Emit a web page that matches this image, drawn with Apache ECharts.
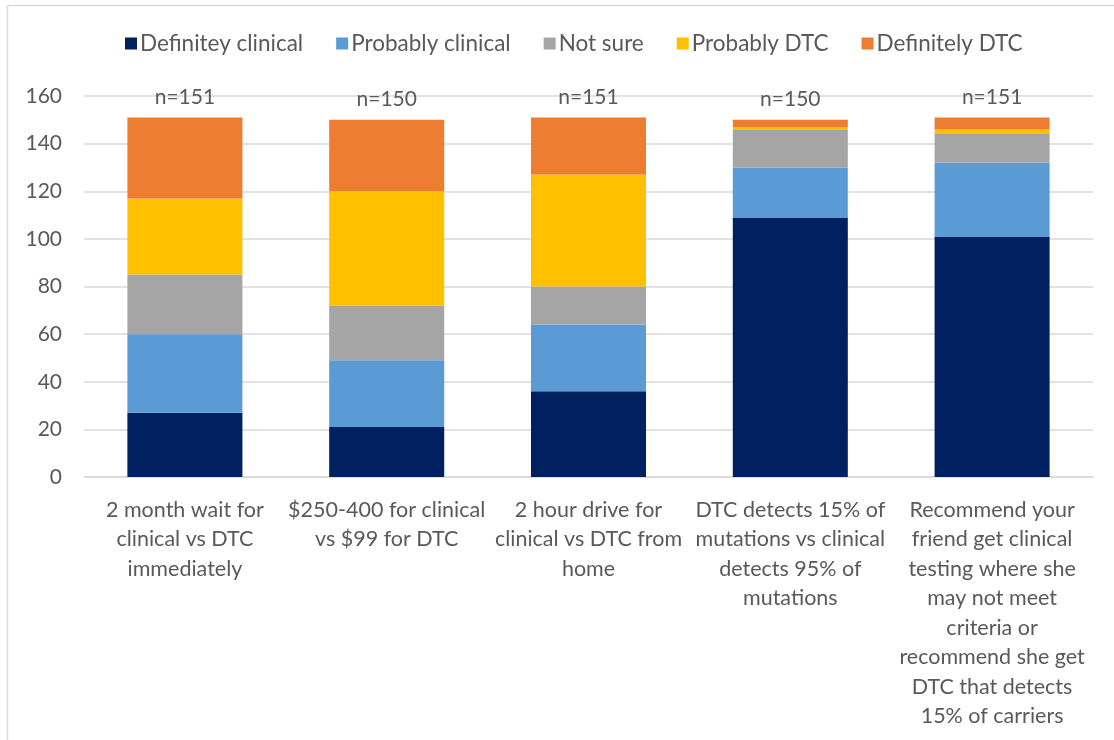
<!DOCTYPE html>
<html>
<head>
<meta charset="utf-8">
<script src="https://cdn.jsdelivr.net/npm/echarts@6/dist/echarts.min.js"></script>
<style>
  html, body { margin: 0; padding: 0; background: #fff; }
  #chart { width: 1114px; height: 740px; }
</style>
</head>
<body>
<div id="chart"></div>
<script>
// Survey responses: clinical vs direct-to-consumer (DTC) genetic testing preferences
const categories = [
  '2 month wait for\nclinical vs DTC\nimmediately',
  '$250-400 for clinical\nvs $99 for DTC',
  '2 hour drive for\nclinical vs DTC from\nhome',
  'DTC detects 15% of\nmutations vs clinical\ndetects 95% of\nmutations',
  'Recommend your\nfriend get clinical\ntesting where she\nmay not meet\ncriteria or\nrecommend she get\nDTC that detects\n15% of carriers'
];

const seriesNames = ['Definitey clinical', 'Probably clinical', 'Not sure', 'Probably DTC', 'Definitely DTC'];

const definitelyClinical = [27, 21, 36, 109, 101];
const probablyClinical   = [33, 28, 28, 21, 31];
const notSure            = [25, 23, 16, 16, 12];
const probablyDTC        = [32, 48, 47, 1, 2];
const definitelyDTC      = [34, 30, 24, 3, 5];

const yTicks = [0, 20, 40, 60, 80, 100, 120, 140, 160];

const colors = ['#002060', '#5B9BD5', '#A5A5A5', '#FFC000', '#ED7D31'];
const valueSets = [definitelyClinical, probablyClinical, notSure, probablyDTC, definitelyDTC];

// respondents per question = stack total
const totals = categories.map((_, i) => valueSets.reduce((s, arr) => s + arr[i], 0));

const FONT = 'Lato, "Open Sans", sans-serif';
const TEXT = '#595959';

const chart = echarts.init(document.getElementById('chart'), null, { renderer: 'canvas' });

const series = valueSets.map((vals, k) => {
  const s = {
    name: seriesNames[k],
    type: 'bar',
    stack: 'total',
    data: vals,
    barWidth: '57%',
    itemStyle: { color: colors[k] },
    emphasis: { disabled: true }
  };
  if (k === valueSets.length - 1) {
    s.label = {
      show: true,
      position: 'top',
      distance: 10,
      color: TEXT,
      fontFamily: FONT,
      fontSize: 21,
      formatter: p => 'n=' + totals[p.dataIndex]
    };
  }
  return s;
});

chart.setOption({
  animation: false,
  textStyle: { fontFamily: FONT },
  graphic: [
    { type: 'line', shape: { x1: 7.5, y1: 5.5, x2: 1114, y2: 5.5 }, style: { stroke: '#D9D9D9', lineWidth: 1.5 } },
    { type: 'line', shape: { x1: 7.5, y1: 5.5, x2: 7.5, y2: 740 }, style: { stroke: '#D9D9D9', lineWidth: 1.5 } }
  ],
  legend: {
    top: 27,
    left: 120,
    itemWidth: 12,
    itemHeight: 12,
    itemGap: 33,
    icon: 'rect',
    textStyle: { color: TEXT, fontSize: 22.5, fontFamily: FONT, padding: [0, 0, 0, -2] },
    data: seriesNames
  },
  grid: { left: 84, right: 21, top: 96, bottom: 263, containLabel: false },
  xAxis: {
    type: 'category',
    data: categories,
    axisLine: { show: true, lineStyle: { color: '#D9D9D9', width: 1.5 } },
    axisTick: { show: false },
    axisLabel: {
      color: TEXT,
      fontSize: 21.5,
      fontFamily: FONT,
      lineHeight: 29.5,
      margin: 18,
      interval: 0
    }
  },
  yAxis: {
    type: 'value',
    min: 0,
    max: 160,
    interval: 20,
    axisLine: { show: false },
    axisTick: { show: false },
    axisLabel: {
      color: TEXT,
      fontSize: 21,
      fontFamily: FONT,
      margin: 22,
      formatter: v => (yTicks.includes(v) ? String(v) : '')
    },
    splitLine: { lineStyle: { color: '#D9D9D9', width: 1.5 } }
  },
  series
});
</script>
</body>
</html>
